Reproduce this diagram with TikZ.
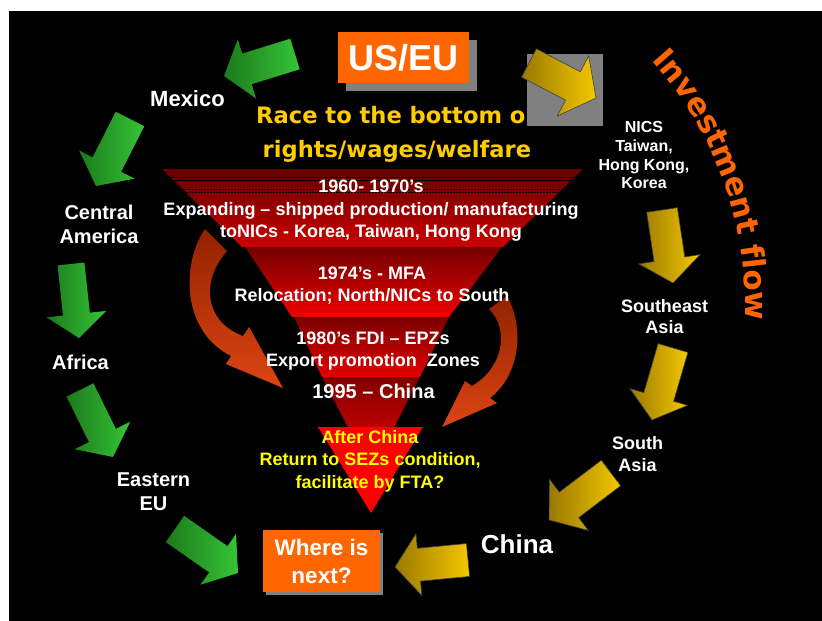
\documentclass[tikz,border=0pt]{standalone}
\usepackage{fontspec}
\setmainfont{Liberation Sans}
\newfontfamily\vfont{DejaVu Sans}
\usetikzlibrary{shadows,decorations.text,calc}

\newcommand\fsz[2]{\fontsize{#1}{#2}\selectfont}

% block arrow: #1 name, #2 style, #3 tail, #4 tip, #5 half shaft, #6 half head, #7 head length
\newcommand\flowarrow[7]{%
  \coordinate (#1-t) at (#3);
  \coordinate (#1-p) at (#4);
  \coordinate (#1-n) at ($(#1-p)!#7!(#1-t)$);
  \path[#2] ($(#1-t)!#5!90:(#1-p)$) -- ($(#1-n)!#5!90:(#1-p)$)
    -- ($(#1-n)!#6!90:(#1-p)$) -- (#1-p) -- ($(#1-n)!#6!-90:(#1-p)$)
    -- ($(#1-n)!#5!-90:(#1-p)$) -- ($(#1-t)!#5!-90:(#1-p)$) -- cycle;
}

\definecolor{boxorange}{HTML}{FF6600}
\definecolor{raceyellow}{HTML}{FFCC00}
\definecolor{afteryellow}{HTML}{FFFF00}
\definecolor{shadowgray}{HTML}{808080}
\definecolor{greenlight}{HTML}{36C436}
\definecolor{greendark}{HTML}{1B7A1B}
\definecolor{goldlight}{HTML}{F4C800}
\definecolor{golddark}{HTML}{9A7800}
\definecolor{curvetop}{HTML}{922200}
\definecolor{curvebottom}{HTML}{DC4512}
\definecolor{purered}{HTML}{FF0000}

\begin{document}
\begin{tikzpicture}[x=1pt,y=-1pt,
  lbl/.style={text=white, inner sep=0pt, align=center},
  garrow/.style={left color=greendark, right color=greenlight},
  yarrow/.style={left color=golddark, right color=goldlight,
    draw=black!75, line width=0.6pt},
  curvearrow/.style={top color=curvetop, bottom color=curvebottom},
  orangebox/.style={fill=boxorange, text=white, inner sep=0pt,
    drop shadow={shadow xshift=#1, shadow yshift=-#1, fill=shadowgray, opacity=1}},
  stripe/.style={black, line width=1pt},
  dstripe/.style={black, line width=0.6pt, dash pattern=on 2pt off 1pt}
]
% page and black panel
\useasboundingbox (0,0) rectangle (822,621);
\fill[white] (0,0) rectangle (822,621);
\fill[black] (9,11) rectangle (822,621);

% layered funnel
\shade[top color=red!40!black, bottom color=red!80!black]
  (162,169) -- (583,169) -- (503,247) -- (242,247) -- cycle;
\begin{scope}
  \clip (162,169) -- (583,169) -- (503,247) -- (242,247) -- cycle;
  \draw[stripe] (150,177.5) -- (600,177.5);
  \draw[stripe] (150,180.5) -- (600,180.5);
  \draw[dstripe] (150,189.5) -- (600,189.5);
  \draw[dstripe] (150,192.5) -- (600,192.5);
\end{scope}
\shade[top color=red!45!black, bottom color=red!93!black]
  (245,247) -- (502,247) -- (449,317) -- (292,317) -- cycle;
\shade[top color=red!48!black, bottom color=red!90!black]
  (294,317) -- (449,317) -- (420,377) -- (322,377) -- cycle;
\shade[top color=red!50!black, bottom color=red!95!black]
  (322,377) -- (420,377) -- (371,472) -- cycle;
\fill[purered] (318,427) -- (423,427) -- (371,513) -- cycle;

% curved arrows beside the funnel
\shade[curvearrow]
  (205,229) .. controls (182,262) and (180,330) .. (231,356)
  -- (226,364) -- (283,388) -- (249,327) -- (243,336)
  .. controls (205,322) and (200,282) .. (227,251) -- cycle;
\shade[curvearrow]
  (507,296) .. controls (525,328) and (520,375) .. (490,398)
  -- (497,403) -- (442,427) -- (465,381) -- (472,386)
  .. controls (503,368) and (510,330) .. (489,309) -- cycle;

% funnel texts
\node[lbl, font=\bfseries\fsz{18}{22.5}] (t60) at (371,210.9)
  {1960- 1970’s\\Expanding – shipped production/ manufacturing\\toNICs - Korea, Taiwan, Hong Kong};
\node[lbl, font=\bfseries\fsz{18}{22}] (t74) at (372,285.8)
  {1974’s - MFA\\Relocation; North/NICs to South};
\node[lbl, font=\bfseries\fsz{18}{22}] (t80) at (373,351.4)
  {1980’s FDI – EPZs\\Export promotion\ \ Zones};
\node[lbl, anchor=base, font=\bfseries\fsz{20}{24}] (t95) at (373.5,398) {1995 – China};
\node[lbl, text=afteryellow, font=\bfseries\fsz{18}{22.5}] (tafter) at (370,460.9)
  {After China\\Return to SEZs condition,\\facilitate by FTA?};

% heading
\node[anchor=base west, inner sep=0pt, text=raceyellow, font=\vfont\bfseries\fsz{22.6}{26}]
  (race) at (256,123) {Race to the bottom o};
\node[anchor=base west, inner sep=0pt, text=raceyellow, font=\vfont\bfseries\fsz{22.6}{26}]
  (rights) at (262.5,157) {rights/wages/welfare};

% region labels
\node[lbl, anchor=base, font=\bfseries\fsz{22}{26}] (mexico) at (187.5,106) {Mexico};
\node[lbl, font=\bfseries\fsz{20}{24}] (central) at (99,224.8) {Central\\America};
\node[lbl, anchor=base, font=\bfseries\fsz{20}{24}] (africa) at (80.5,369) {Africa};
\node[lbl, font=\bfseries\fsz{20}{24}] (eastern) at (153.5,491.8) {Eastern\\EU};
\node[lbl, font=\bfseries\fsz{16}{18.7}] (nics) at (644,155.3) {NICS\\Taiwan,\\Hong Kong,\\Korea};
\node[lbl, font=\bfseries\fsz{18}{21}] (seasia) at (664.5,317) {Southeast\\Asia};
\node[lbl, font=\bfseries\fsz{18}{22}] (sasia) at (637.5,454.5) {South\\Asia};
\node[lbl, anchor=base, font=\bfseries\fsz{26}{30}] (china) at (517,553) {China};

% boxes
\node[orangebox=7.5pt, minimum width=131pt, minimum height=51pt,
  font=\bfseries\fsz{36}{40}] (useu) at (403.5,57.5) {US/EU};
\node[orangebox=2.5pt, minimum width=117pt, minimum height=62pt, align=center,
  font=\bfseries\fsz{22.5}{28}] (next) at (321.5,561) {Where is\\next?};

% investment flow lettering along an arc
\path[decorate, decoration={text along path, text color=boxorange,
    text={|\vfont\bfseries\fsz{31}{31}|Investment flow}}]
  (651,60.1) arc[start angle=42, end angle=-15, radius=366pt];

% green flow arrows
\flowarrow{g1}{garrow}{295,54}{224,76}{16pt}{31pt}{24pt}
\flowarrow{g2}{garrow}{130,119}{96,186}{16pt}{31pt}{24pt}
\flowarrow{g3}{garrow}{71,264}{79,338}{13.5pt}{30pt}{24pt}
\flowarrow{g4}{garrow}{80,390}{113,457}{15pt}{31pt}{24pt}
\flowarrow{g5}{garrow}{175,529}{238,573}{16pt}{31pt}{24pt}

% yellow flow arrows
\node[fill=shadowgray, inner sep=0pt, minimum width=76pt, minimum height=72pt] (graybox) at (565,90) {};
\flowarrow{y1}{yarrow}{529,63}{596,98}{16pt}{34pt}{26pt}
\flowarrow{y2}{yarrow}{662,210}{673,283}{15.5pt}{31pt}{24pt}
\flowarrow{y3}{yarrow}{673,348}{652,420}{15.5pt}{30pt}{24pt}
\flowarrow{y4}{yarrow}{611,473}{549,520}{16pt}{32pt}{25pt}
\flowarrow{y5}{yarrow}{468,560}{395,567}{16.5pt}{31pt}{24pt}
\end{tikzpicture}
\end{document}
